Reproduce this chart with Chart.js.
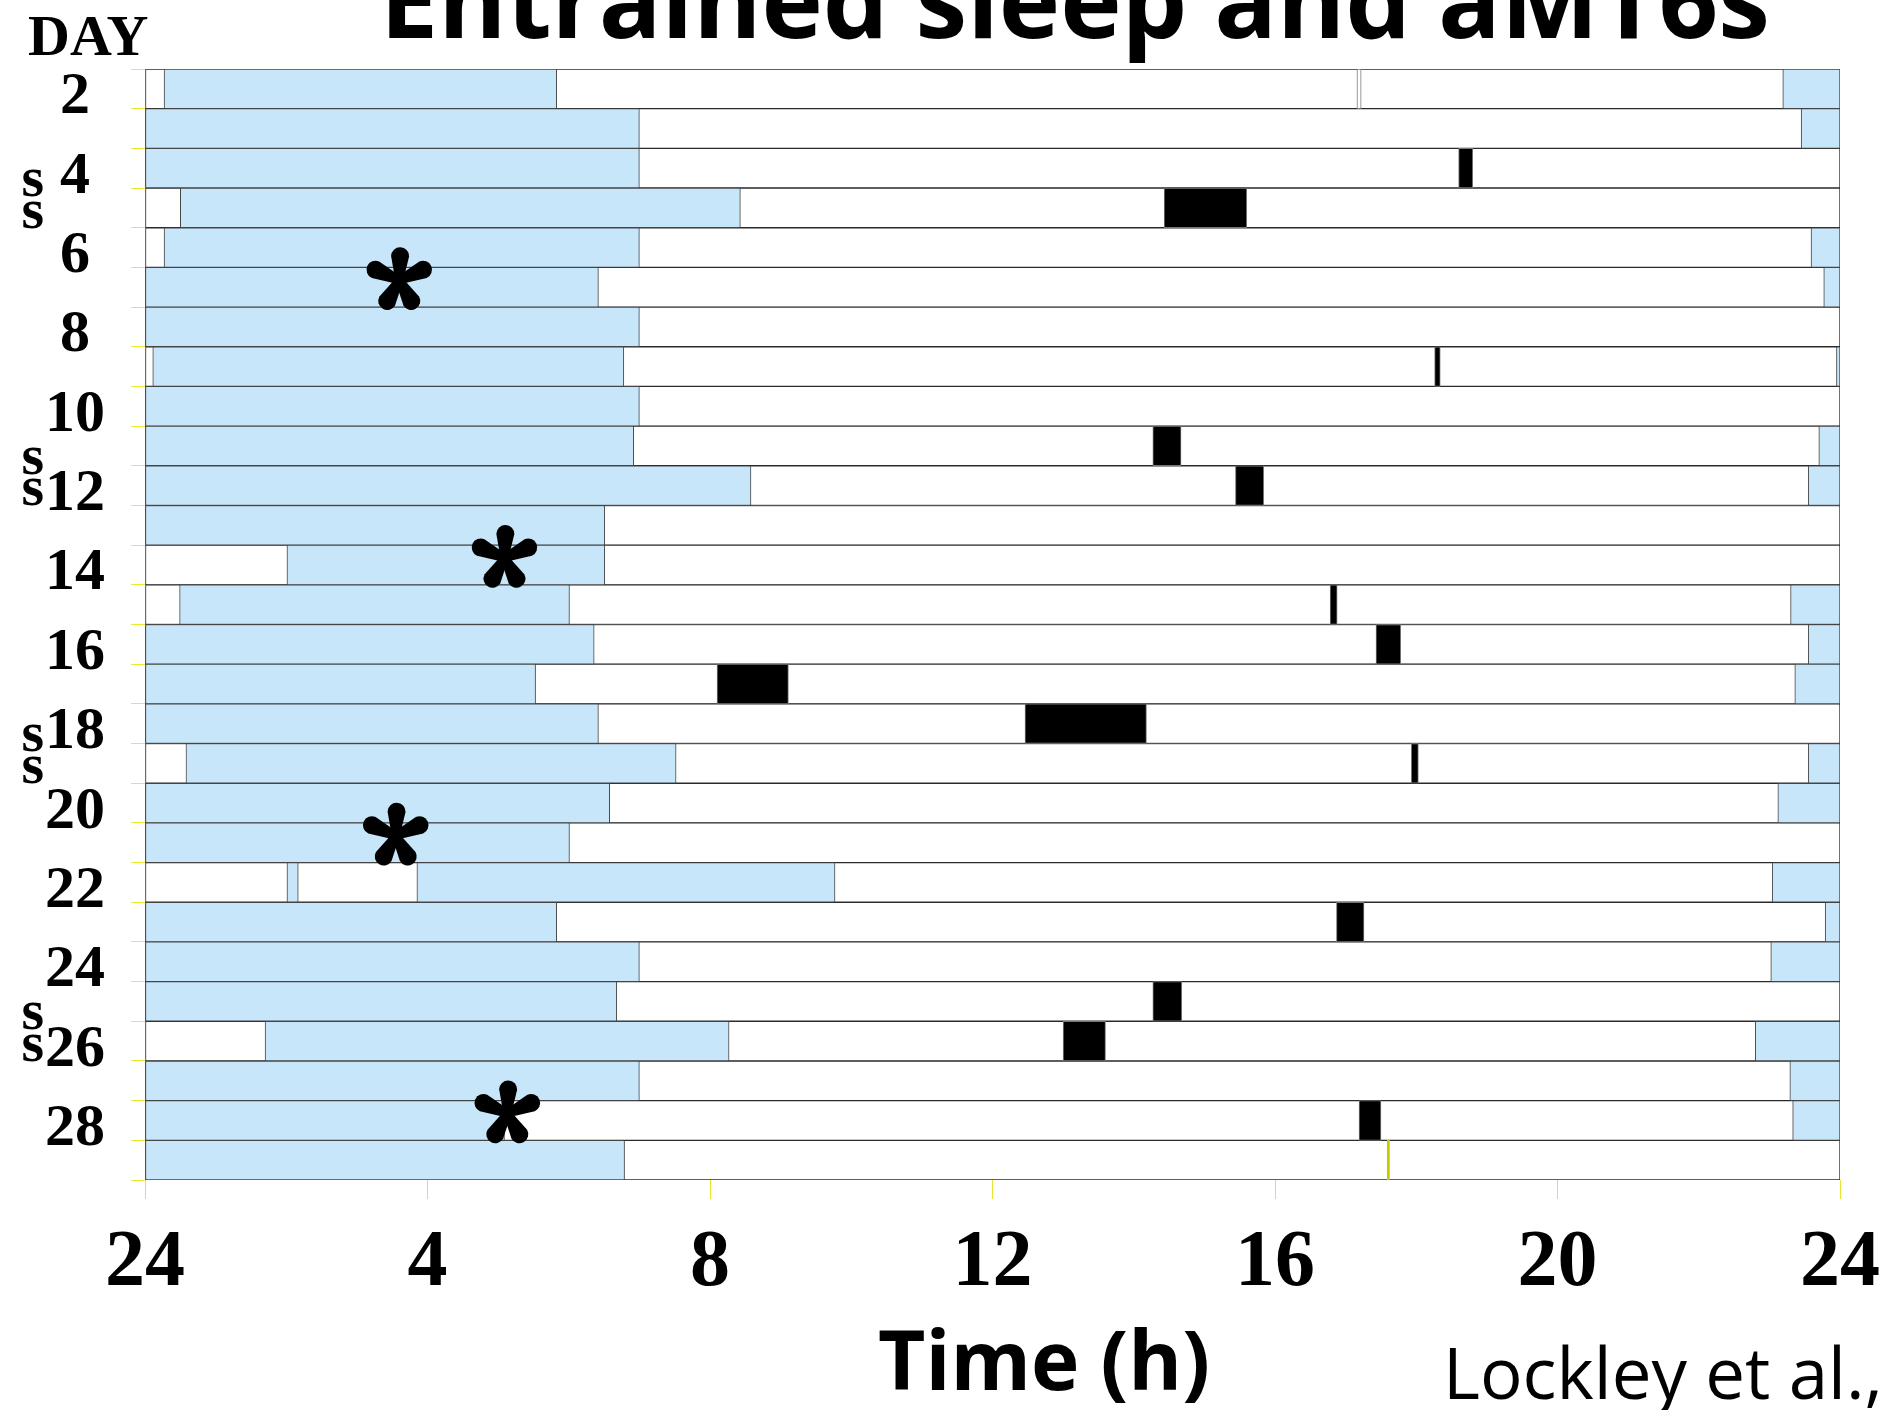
<!DOCTYPE html>
<html>
<head>
<meta charset="utf-8">
<title>Entrained sleep and aMT6s</title>
<script src="https://cdn.jsdelivr.net/npm/chart.js@4.4.1/dist/chart.umd.min.js"></script>
<style>
    html, body { margin: 0; padding: 0; background: #fff; }
    #chartWrap { width: 1897px; height: 1410px; }
</style>
</head>
<body>
<div id="chartWrap"><canvas id="actogram" width="1897" height="1410"></canvas></div>
<script>
// One row per study day, top to bottom
const days = ["2", "3", "4", "5", "6", "7", "8", "9", "10", "11", "12", "13", "14", "15",
    "16", "17", "18", "19", "20", "21", "22", "23", "24", "25", "26", "27", "28", "29"];
const labelledDays = ["2", "4", "6", "8", "10", "12", "14", "16", "18", "20", "22", "24", "26", "28"];
const hourTicks = ["24", "4", "8", "12", "16", "20", "24"];

// Sleep episodes (clock hours), one entry per row
const mainSleep = [
    [0.27, 5.83], [0, 7.0], [0, 7.0], [0.5, 8.43], [0.27, 7.0], [0, 6.42], [0, 7.0], [0.11, 6.78],
    [0, 7.0], [0, 6.92], [0, 8.58], [0, 6.51], [2.01, 6.51], [0.49, 6.01], [0, 6.36], [0, 5.53],
    [0, 6.42], [0.58, 7.52], [0, 6.58], [0, 6.01], [3.85, 9.77], [0, 5.83], [0, 7.0], [0, 6.68],
    [1.7, 8.27], [0, 7.0], [0, 5.09], [0, 6.79]
];
const eveningSleep = [
    [23.19, 24], [23.45, 24], null, null, [23.59, 24], [23.77, 24], null, [23.95, 24],
    null, [23.7, 24], [23.55, 24], null, null, [23.3, 24], [23.55, 24], [23.36, 24],
    null, [23.55, 24], [23.12, 24], null, [23.04, 24], [23.79, 24], [23.02, 24], null,
    [22.8, 24], [23.29, 24], [23.33, 24], null
];
const extraSleep = [
    null, null, null, null, null, null, null, null, null, null, null, null, null, null,
    null, null, null, null, null, null, [2.01, 2.17], null, null, null, null, null, null, null
];
// Daytime naps
const naps = [
    null, null, [18.6, 18.8], [14.43, 15.6], null, null, null, [18.26, 18.34],
    null, [14.27, 14.67], [15.44, 15.84], null, null, [16.78, 16.88], [17.43, 17.78], [8.1, 9.11],
    [12.46, 14.18], [17.93, 18.03], null, null, null, [16.87, 17.26], null, [14.27, 14.68],
    [13.0, 13.6], null, [17.19, 17.5], null
];
const wakeBreaks = [
    [17.16, 17.22], null, null, null, null, null, null, null, null, null, null, null, null, null,
    null, null, null, null, null, null, null, null, null, null, null, null, null, null
];
const eventMarks = [
    null, null, null, null, null, null, null, null, null, null, null, null, null, null,
    null, null, null, null, null, null, null, null, null, null, null, null, null, [17.59, 17.62]
];

// Weekly markers
const asteriskDays = ["7", "14", "21", "28"];
const asteriskHours = [3.6, 5.09, 3.55, 5.13];
const sampleDays = ["4", "11", "18", "25"];

const SERIF = "'Liberation Serif', 'Times New Roman', serif";
const SANS = "'Open Sans', 'DejaVu Sans', sans-serif";
const SLEEP_BLUE = "#c8e6fa";

function fitFont(ctx, text, weight, family, width) {
    ctx.font = `${weight} 100px ${family}`;
    const size = 100 * width / ctx.measureText(text).width;
    ctx.font = `${weight} ${size}px ${family}`;
}

// draw a glyph so that its ink box is centred on (cx, cy)
function drawCentered(ctx, text, cx, cy) {
    ctx.textAlign = "left";
    ctx.textBaseline = "alphabetic";
    const m = ctx.measureText(text);
    const x = cx - (m.actualBoundingBoxRight - m.actualBoundingBoxLeft) / 2;
    const y = cy + (m.actualBoundingBoxAscent - m.actualBoundingBoxDescent) / 2;
    ctx.fillText(text, x, y);
}

// five petal asterisk like the slide's
function drawAsterisk(ctx, cx, cy) {
    const arms = [[-88, 33], [-24, 35], [-156, 35], [60, 33], [120, 33]];
    const w0 = 4, w1 = 9;
    arms.forEach(([deg, len]) => {
        const a = deg * Math.PI / 180;
        const dx = Math.cos(a), dy = Math.sin(a);
        const px = -dy, py = dx;
        const tx = cx + dx * (len - w1), ty = cy + dy * (len - w1);
        ctx.beginPath();
        ctx.moveTo(cx + px * w0, cy + py * w0);
        ctx.lineTo(tx + px * w1, ty + py * w1);
        ctx.arc(tx, ty, w1, a + Math.PI / 2, a - Math.PI / 2, true);
        ctx.lineTo(cx - px * w0, cy - py * w0);
        ctx.closePath();
        ctx.fill();
    });
    ctx.beginPath();
    ctx.arc(cx, cy, 7, 0, Math.PI * 2);
    ctx.fill();
}

const actogramText = {
    id: "actogramText",
    afterDraw(chart) {
        const { ctx } = chart;
        const yScale = chart.scales.y;
        const rowH = yScale.getPixelForValue(1) - yScale.getPixelForValue(0);
        ctx.save();
        ctx.fillStyle = "#000";
        ctx.textAlign = "left";
        ctx.textBaseline = "alphabetic";

        fitFont(ctx, "Entrained sleep and aMT6s", "bold", SANS, 1390);
        ctx.fillText("Entrained sleep and aMT6s", 380, 38);

        ctx.font = `bold 58px ${SERIF}`;
        ctx.fillText("DAY", 28, 55);

        fitFont(ctx, "Time (h)", "bold", SANS, 332);
        ctx.fillText("Time (h)", 878, 1390);

        fitFont(ctx, "Lockley et al.,", "normal", SANS, 440);
        ctx.fillText("Lockley et al.,", 1443, 1399);

        // "s" pairs beside the day axis
        ctx.font = `bold 58px ${SERIF}`;
        sampleDays.forEach(day => {
            const yc = yScale.getPixelForValue(days.indexOf(day));
            drawCentered(ctx, "s", 33, yc + 0.37 * rowH);
            drawCentered(ctx, "s", 33, yc + 1.17 * rowH);
        });

        // asterisks, placed through the scatter dataset
        const meta = chart.getDatasetMeta(chart.data.datasets.findIndex(d => d.label === "marker"));
        meta.data.forEach(pt => drawAsterisk(ctx, pt.x, pt.y - 7));
        ctx.restore();
    }
};

const barBase = {
    type: "bar",
    grouped: false,
    barPercentage: 1,
    categoryPercentage: 1,
    borderSkipped: false,
    borderWidth: 1
};

new Chart(document.getElementById("actogram"), {
    type: "bar",
    data: {
        labels: days,
        datasets: [
            {
                type: "scatter",
                label: "marker",
                data: asteriskDays.map((d, i) => ({ x: asteriskHours[i], y: d })),
                pointRadius: 0
            },
            { ...barBase, label: "event", data: eventMarks, backgroundColor: "#c9c900", borderWidth: 0 },
            { ...barBase, label: "nap", data: naps, backgroundColor: "#000", borderColor: "#777" },
            { ...barBase, label: "break", data: wakeBreaks, backgroundColor: "#fff", borderColor: "#777" },
            { ...barBase, label: "sleep extra", data: extraSleep, backgroundColor: SLEEP_BLUE, borderColor: "#444" },
            { ...barBase, label: "sleep evening", data: eveningSleep, backgroundColor: SLEEP_BLUE, borderColor: "#444" },
            { ...barBase, label: "sleep", data: mainSleep, backgroundColor: SLEEP_BLUE, borderColor: "#444" },
            { ...barBase, label: "wake", data: days.map(() => [0, 24]), backgroundColor: "#fff", borderColor: "#2b2b2b" }
        ]
    },
    options: {
        indexAxis: "y",
        responsive: false,
        animation: false,
        events: [],
        layout: { padding: { top: 69, right: 56, left: 0, bottom: 0 } },
        plugins: {
            legend: { display: false },
            tooltip: { enabled: false },
            title: { display: false }
        },
        scales: {
            x: {
                type: "linear",
                min: 0,
                max: 24,
                border: { display: false },
                grid: { drawOnChartArea: false, color: "#e6e632", tickLength: 19, lineWidth: 1 },
                ticks: {
                    stepSize: 4,
                    autoSkip: false,
                    maxRotation: 0,
                    padding: 17,
                    color: "#000",
                    font: { family: SERIF, weight: "bold", size: 80 },
                    callback: (value, index) => hourTicks[index]
                },
                afterFit: (scale) => { scale.height = 230; }
            },
            y: {
                type: "category",
                offset: true,
                border: { display: false },
                grid: { offset: true, drawOnChartArea: false, color: "#ecec2c", tickLength: 14, lineWidth: 1 },
                ticks: {
                    autoSkip: false,
                    crossAlign: "center",
                    padding: 26,
                    labelOffset: 9,
                    color: "#000",
                    font: { family: SERIF, weight: "bold", size: 60 },
                    callback: (value, index) => labelledDays.includes(days[index]) ? days[index] : ""
                },
                afterFit: (scale) => { scale.width = 145; }
            }
        }
    },
    plugins: [actogramText]
});
</script>
</body>
</html>
